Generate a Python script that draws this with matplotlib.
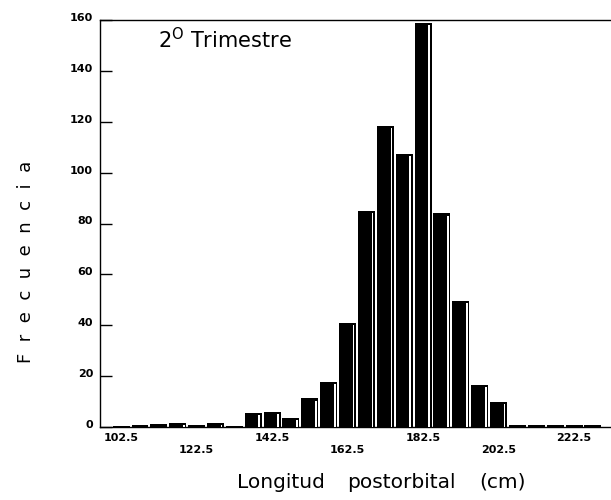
#
# Histograma: longitud postorbital, 2o trimestre
#
import numpy as np
import matplotlib
matplotlib.use("Agg")
import matplotlib.pyplot as plt
import matplotlib.transforms as mtransforms
from matplotlib.ticker import FixedLocator

plt.rcParams['font.family'] = ['DejaVu Sans']
plt.rcParams['mathtext.fontset'] = 'custom'
plt.rcParams['mathtext.rm'] = 'DejaVu Sans'

# bin centres (cm) and counts
centros = [102.5, 107.5, 112.5, 117.5, 122.5, 127.5, 132.5, 137.5, 142.5, 147.5,
           152.5, 157.5, 162.5, 167.5, 172.5, 177.5, 182.5, 187.5, 192.5, 197.5,
           202.5, 207.5, 212.5, 217.5, 222.5, 227.5]
frecuencia = [0.3, 0.7, 1.0, 1.7, 0.7, 1.6, 0.5, 5.5, 6.0, 3.7,
              11.3, 17.8, 41.0, 85.0, 118.5, 107.5, 159.0, 84.0, 49.5, 16.5,
              10.0, 0.6, 0.6, 0.7, 0.7, 0.7]
ticks_arriba = [102.5, 142.5, 182.5, 222.5]
ticks_abajo = [122.5, 162.5, 202.5]
ticks_y = [0, 20, 40, 60, 80, 100, 120, 140, 160]

fig = plt.figure(figsize=(6.11, 5.0), dpi=100)
ax = fig.add_axes([100 / 611, 73 / 500, 511 / 611, 407 / 500])

x = np.array(centros)
h = np.array(frecuencia)
ax.bar(x, h, width=4.5, color='black', linewidth=0, zorder=2)
# white highlight stripe near the right side of each bar (pseudo 3D look)
hs = np.clip(h - 0.9, 0, None)
ax.bar(x + 1.6, hs, width=0.45, color='white', linewidth=0, zorder=3)

ax.set_xlim(96.9, 232.3)
ax.set_ylim(0, 160)

ax.spines['right'].set_visible(False)
for s in ['left', 'top', 'bottom']:
    ax.spines[s].set_linewidth(1.0)

ax.set_yticks(ticks_y)
ax.tick_params(axis='y', direction='in', length=8.5, width=1.0, pad=5,
               labelsize=8)
desplaza = mtransforms.ScaledTranslation(0, 3 / 100, fig.dpi_scale_trans)
for t in ax.get_yticklabels():
    t.set_fontweight('bold')
    t.set_transform(t.get_transform() + desplaza)

ax.xaxis.set_major_locator(FixedLocator(ticks_arriba))
ax.xaxis.set_minor_locator(FixedLocator(ticks_abajo))
ax.set_xticklabels([str(v) for v in ticks_arriba], minor=False)
ax.set_xticklabels([str(v) for v in ticks_abajo], minor=True)
ax.tick_params(axis='x', which='major', length=0, pad=4.5, labelsize=8)
ax.tick_params(axis='x', which='minor', length=0, pad=13, labelsize=8)
for t in ax.get_xticklabels(minor=False) + ax.get_xticklabels(minor=True):
    t.set_fontweight('bold')

fig.text(158 / 611, 1 - 48 / 500, r'2$^{\mathrm{O}}$ Trimestre', fontsize=15,
         ha='left', va='baseline')
# x label, words placed with the wide spacing of the original
fig.text(237 / 611, 1 - 488 / 500, 'Longitud', fontsize=14.5,
         ha='left', va='baseline')
fig.text(347 / 611, 1 - 488 / 500, 'postorbital', fontsize=14.5,
         ha='left', va='baseline')
fig.text(479 / 611, 1 - 488 / 500, '(cm)', fontsize=14.5,
         ha='left', va='baseline')
fig.text(26 / 611, 1 - 262 / 500, 'F  r  e  c  u  e  n  c  i  a', fontsize=13,
         rotation=90, ha='center', va='center')

fig.savefig('out.png', dpi=100)
